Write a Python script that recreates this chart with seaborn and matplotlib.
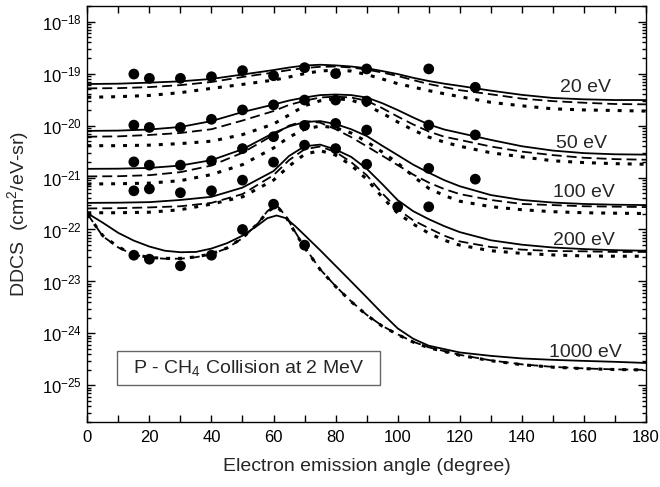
import numpy as np
import pandas as pd
import matplotlib
matplotlib.use("Agg")
import matplotlib.pyplot as plt
import seaborn as sns
from matplotlib.ticker import MultipleLocator, FixedLocator, LogFormatterSciNotation, NullFormatter
from matplotlib.patches import Rectangle

# ---------------- data ----------------
ANGLES = [0, 10, 20, 30, 40, 50, 60, 65, 70, 75, 80, 85, 90, 95, 100, 105, 110, 115, 120, 130, 140, 150, 160, 170, 180]

E20_SOLID = [6.3e-20, 6.4e-20, 6.7e-20, 7.1e-20, 7.9e-20, 9.6e-20, 1.17e-19, 1.31e-19, 1.43e-19, 1.48e-19, 1.44e-19, 1.37e-19,
             1.27e-19, 1.12e-19, 9.8e-20, 8.3e-20, 7.2e-20, 6.4e-20, 5.8e-20, 4.7e-20, 3.9e-20, 3.4e-20, 3.2e-20, 3.1e-20, 3.1e-20]
E20_DASH = [5.2e-20, 5.25e-20, 5.5e-20, 6.0e-20, 6.9e-20, 8.6e-20, 1.05e-19, 1.17e-19, 1.28e-19, 1.35e-19, 1.37e-19, 1.31e-19,
            1.2e-19, 1.05e-19, 9.0e-20, 7.5e-20, 6.3e-20, 5.5e-20, 4.8e-20, 4.0e-20, 3.3e-20, 2.95e-20, 2.75e-20, 2.6e-20, 2.56e-20]
E20_DOT = [3.5e-20, 3.6e-20, 3.8e-20, 4.3e-20, 5.2e-20, 6.2e-20, 7.5e-20, 8.6e-20, 1.0e-19, 1.12e-19, 1.17e-19, 1.12e-19,
           9.6e-20, 7.9e-20, 6.4e-20, 5.5e-20, 4.7e-20, 4.1e-20, 3.6e-20, 2.8e-20, 2.4e-20, 2.1e-20, 2.0e-20, 1.95e-20, 1.9e-20]

E50_SOLID = [7.9e-21, 8.0e-21, 8.4e-21, 9.4e-21, 1.22e-20, 1.82e-20, 2.54e-20, 3.03e-20, 3.47e-20, 3.86e-20, 3.96e-20, 3.86e-20,
             3.47e-20, 2.7e-20, 1.99e-20, 1.43e-20, 1.05e-20, 8.4e-21, 7.2e-21, 5.3e-21, 4.0e-21, 3.3e-21, 2.95e-21, 2.8e-21, 2.76e-21]
E50_DASH = [6.1e-21, 6.2e-21, 6.6e-21, 7.2e-21, 8.5e-21, 1.25e-20, 1.9e-20, 2.5e-20, 3.0e-20, 3.47e-20, 3.6e-20, 3.47e-20,
            3.0e-20, 2.17e-20, 1.49e-20, 1.05e-20, 7.7e-21, 6.1e-21, 5.3e-21, 3.95e-21, 3.15e-21, 2.7e-21, 2.4e-21, 2.26e-21, 2.2e-21]
E50_DOT = [4.1e-21, 4.1e-21, 4.2e-21, 4.5e-21, 5.0e-21, 6.7e-21, 1.07e-20, 1.6e-20, 2.4e-20, 3.0e-20, 3.3e-20, 3.1e-20,
           2.43e-20, 1.74e-20, 1.17e-20, 8.2e-21, 6.0e-21, 4.8e-21, 4.0e-21, 3.0e-21, 2.5e-21, 2.1e-21, 1.94e-21, 1.85e-21, 1.8e-21]

E100_SOLID = [1.47e-21, 1.48e-21, 1.53e-21, 1.7e-21, 2.16e-21, 3.5e-21, 7.2e-21, 9.6e-21, 1.17e-20, 1.22e-20, 1.07e-20, 8.5e-21,
              6.3e-21, 4.1e-21, 2.7e-21, 1.77e-21, 1.24e-21, 8.9e-22, 6.8e-22, 4.6e-22, 3.7e-22, 3.3e-22, 3.1e-22, 3.0e-22, 2.95e-22]
E100_DASH = [1.05e-21, 1.06e-21, 1.11e-21, 1.27e-21, 1.7e-21, 3.0e-21, 6.6e-21, 1.0e-20, 1.22e-20, 1.14e-20, 8.5e-21, 6.0e-21,
             4.0e-21, 2.64e-21, 1.73e-21, 1.14e-21, 8.0e-22, 6.0e-22, 4.8e-22, 3.7e-22, 3.1e-22, 2.95e-22, 2.8e-22, 2.75e-22, 2.7e-22]
E100_DOT = [7.5e-22, 7.6e-22, 7.8e-22, 8.7e-22, 1.14e-21, 1.77e-21, 3.7e-21, 6.0e-21, 8.5e-21, 9.8e-21, 9.1e-21, 7.2e-21,
            4.9e-21, 3.1e-21, 1.9e-21, 1.06e-21, 6.2e-22, 4.5e-22, 3.5e-22, 2.75e-22, 2.4e-22, 2.2e-22, 2.1e-22, 2.06e-22, 2.03e-22]

E200_SOLID = [3.25e-22, 3.28e-22, 3.36e-22, 3.7e-22, 4.25e-22, 6.4e-22, 1.33e-21, 2.6e-21, 4.0e-21, 4.3e-21, 3.45e-21, 2.5e-21,
              1.48e-21, 7.5e-22, 3.67e-22, 2.25e-22, 1.58e-22, 1.16e-22, 8.9e-23, 6.2e-23, 5.1e-23, 4.5e-23, 4.2e-23, 4.0e-23, 3.9e-23]
E200_DASH = [2.54e-22, 2.57e-22, 2.66e-22, 2.8e-22, 3.25e-22, 4.8e-22, 1.11e-21, 2.16e-21, 3.5e-21, 3.95e-21, 3.1e-21, 1.98e-21,
             1.11e-21, 5.0e-22, 2.46e-22, 1.5e-22, 1.06e-22, 7.6e-23, 5.9e-23, 4.6e-23, 4.1e-23, 3.85e-23, 3.8e-23, 3.7e-23, 3.7e-23]
E200_DOT = [2.1e-22, 2.1e-22, 2.15e-22, 2.4e-22, 3.08e-22, 4.25e-22, 8.9e-22, 1.66e-21, 2.8e-21, 3.3e-21, 2.7e-21, 1.73e-21,
            9.3e-22, 4.2e-22, 2.06e-22, 1.27e-22, 8.5e-23, 6.2e-23, 5.0e-23, 3.9e-23, 3.47e-23, 3.24e-23, 3.1e-23, 3.06e-23, 3.06e-23]

A1000 = [0, 5, 10, 15, 20, 25, 30, 35, 40, 45, 50, 55, 58, 61, 64, 67, 70, 75, 80, 85, 90, 95, 100, 105, 110,
         120, 130, 140, 150, 160, 170, 180]
E1000_SOLID = [2.06e-22, 1.35e-22, 8.6e-23, 6.1e-23, 4.7e-23, 3.9e-23, 3.65e-23, 3.7e-23, 4.3e-23, 5.45e-23, 7.6e-23, 1.21e-22,
               1.65e-22, 1.86e-22, 1.65e-22, 1.16e-22, 7.8e-23, 4.0e-23, 2.0e-23, 1.0e-23, 4.96e-24, 2.44e-24, 1.25e-24,
               7.9e-25, 5.8e-25, 4.3e-25, 3.7e-25, 3.3e-25, 3.1e-25, 2.96e-25, 2.84e-25, 2.7e-25]
E1000_DASH = [2.0e-22, 7.4e-23, 4.5e-23, 3.27e-23, 2.86e-23, 2.74e-23, 2.74e-23, 2.93e-23, 3.34e-23, 4.36e-23, 6.8e-23, 1.32e-22,
              2.25e-22, 2.94e-22, 1.8e-22, 8.9e-23, 4.6e-23, 1.72e-23, 8.1e-24, 4.15e-24, 2.28e-24, 1.4e-24, 9.6e-25,
              6.9e-25, 5.4e-25, 3.87e-25, 3.03e-25, 2.54e-25, 2.27e-25, 2.12e-25, 2.03e-25, 1.99e-25]
E1000_DOT = [1.95e-22, 7.6e-23, 4.6e-23, 3.3e-23, 2.9e-23, 2.78e-23, 2.78e-23, 2.97e-23, 3.4e-23, 4.4e-23, 6.9e-23, 1.3e-22,
             2.2e-22, 2.85e-22, 1.75e-22, 8.6e-23, 4.5e-23, 1.7e-23, 8.0e-24, 4.1e-24, 2.25e-24, 1.38e-24, 9.5e-25,
             6.8e-25, 5.3e-25, 3.8e-25, 2.98e-25, 2.5e-25, 2.24e-25, 2.1e-25, 2.02e-25, 1.98e-25]

# experimental points
EXP20_ANG = [15, 20, 30, 40, 50, 60, 70, 80, 90, 110, 125]
EXP20_VAL = [9.8e-20, 8.1e-20, 8.1e-20, 8.7e-20, 1.14e-19, 9.1e-20, 1.3e-19, 1.0e-19, 1.23e-19, 1.23e-19, 5.45e-20]
EXP50_ANG = [15, 20, 30, 40, 50, 60, 70, 80, 90, 110, 125]
EXP50_VAL = [1.02e-20, 9.2e-21, 9.2e-21, 1.32e-20, 2.0e-20, 2.5e-20, 3.1e-20, 3.1e-20, 2.96e-20, 1.02e-20, 6.6e-21]
EXP100_ANG = [15, 20, 30, 40, 50, 60, 70, 80, 90, 110, 125]
EXP100_VAL = [2.0e-21, 1.73e-21, 1.73e-21, 2.1e-21, 3.6e-21, 6.1e-21, 1.0e-20, 1.1e-20, 8.2e-21, 1.5e-21, 9.3e-22]
EXP200_ANG = [15, 20, 30, 40, 50, 60, 70, 80, 90, 100, 110]
EXP200_VAL = [5.55e-22, 6.05e-22, 5.1e-22, 5.55e-22, 8.9e-22, 1.98e-21, 4.2e-21, 3.6e-21, 1.8e-21, 2.73e-22, 2.73e-22]
EXP1000_ANG = [15, 20, 30, 40, 50, 60, 70]
EXP1000_VAL = [3.2e-23, 2.68e-23, 2.0e-23, 3.2e-23, 1.0e-22, 3.07e-22, 5.0e-23]

ENERGY_LABELS = ["20 eV", "50 eV", "100 eV", "200 eV", "1000 eV"]
Y_DECADES = [1e-25, 1e-24, 1e-23, 1e-22, 1e-21, 1e-20, 1e-19, 1e-18]

# ---------------- assemble tables ----------------
curves = {
    ("20 eV", "solid"): (ANGLES, E20_SOLID), ("20 eV", "dash"): (ANGLES, E20_DASH), ("20 eV", "dot"): (ANGLES, E20_DOT),
    ("50 eV", "solid"): (ANGLES, E50_SOLID), ("50 eV", "dash"): (ANGLES, E50_DASH), ("50 eV", "dot"): (ANGLES, E50_DOT),
    ("100 eV", "solid"): (ANGLES, E100_SOLID), ("100 eV", "dash"): (ANGLES, E100_DASH), ("100 eV", "dot"): (ANGLES, E100_DOT),
    ("200 eV", "solid"): (ANGLES, E200_SOLID), ("200 eV", "dash"): (ANGLES, E200_DASH), ("200 eV", "dot"): (ANGLES, E200_DOT),
    ("1000 eV", "solid"): (A1000, E1000_SOLID), ("1000 eV", "dash"): (A1000, E1000_DASH), ("1000 eV", "dot"): (A1000, E1000_DOT),
}
rows = []
for (en, model), (a, v) in curves.items():
    for ai, vi in zip(a, v):
        rows.append((en, model, ai, vi))
theory = pd.DataFrame(rows, columns=["energy", "model", "angle", "ddcs"])

exp = pd.concat([
    pd.DataFrame({"energy": en, "angle": a, "ddcs": v})
    for en, a, v in [("20 eV", EXP20_ANG, EXP20_VAL), ("50 eV", EXP50_ANG, EXP50_VAL),
                     ("100 eV", EXP100_ANG, EXP100_VAL), ("200 eV", EXP200_ANG, EXP200_VAL),
                     ("1000 eV", EXP1000_ANG, EXP1000_VAL)]
], ignore_index=True)

# ---------------- style ----------------
sns.set_style("ticks")
plt.rcParams['font.family'] = ['Liberation Sans', 'DejaVu Sans']
plt.rcParams['mathtext.fontset'] = 'custom'
plt.rcParams['mathtext.rm'] = 'Liberation Sans'
plt.rcParams['mathtext.it'] = 'Liberation Sans:italic'
plt.rcParams['mathtext.bf'] = 'Liberation Sans:bold'
plt.rcParams['axes.unicode_minus'] = False

fig = plt.figure(figsize=(6.6, 4.87), dpi=100)
ax = fig.add_axes([87.3 / 660, 1 - 421.7 / 487, (646 - 87.3) / 660, (421.7 - 6) / 487])
ax.set_yscale("log")

styles = {
    "solid": dict(linestyle="-", linewidth=1.3),
    "dash": dict(linestyle=(0, (5.5, 2.8)), linewidth=1.3),
    "dot": dict(linestyle=(0, (1.3, 2.6)), linewidth=2.2),
}

for (en, model), sub in theory.groupby(["energy", "model"], sort=False):
    sns.lineplot(data=sub, x="angle", y="ddcs", ax=ax, color="black", estimator=None,
                 sort=False, errorbar=None, **styles[model])

sns.scatterplot(data=exp, x="angle", y="ddcs", ax=ax, color="black", s=60,
                edgecolor="none", zorder=5, legend=False)

ax.set_xlim(0, 180)
ax.set_ylim(2e-26, 2e-18)
ax.xaxis.set_major_locator(MultipleLocator(20))
ax.xaxis.set_minor_locator(MultipleLocator(10))
ax.yaxis.set_major_locator(FixedLocator(Y_DECADES))
ax.yaxis.set_major_formatter(LogFormatterSciNotation())
minor_y = [m * d for d in [1e-26] + Y_DECADES for m in range(2, 10) if 2e-26 <= m * d <= 2e-18]
ax.yaxis.set_minor_locator(FixedLocator(minor_y))
ax.yaxis.set_minor_formatter(NullFormatter())

ax.tick_params(which="both", direction="in", top=True, right=True, width=1.0, colors="black")
ax.tick_params(axis="x", which="major", length=5, labelsize=12, pad=6)
ax.tick_params(axis="x", which="minor", length=5)
ax.tick_params(axis="y", which="major", length=6, labelsize=12, pad=4)
ax.tick_params(axis="y", which="minor", length=3)
for sp in ax.spines.values():
    sp.set_linewidth(1.0)
    sp.set_color("black")

ax.set_xlabel("Electron emission angle (degree)", fontsize=14, labelpad=9)
ax.set_ylabel("DDCS  (cm$^2$/eV-sr)", fontsize=14, labelpad=8)

# energy labels (axes fraction positions)
label_pos = {"20 eV": (0.8926, 0.794), "50 eV": (0.884, 0.658), "100 eV": (0.889, 0.540),
             "200 eV": (0.889, 0.425), "1000 eV": (0.891, 0.155)}
for lab in ENERGY_LABELS:
    x, y = label_pos[lab]
    ax.text(x, y, lab, transform=ax.transAxes, ha="center", va="baseline", fontsize=14)

# annotation box
ax.add_patch(Rectangle((0.053, 0.088), 0.471, 0.082, transform=ax.transAxes,
                       facecolor="white", edgecolor="#666666", linewidth=1.0, zorder=6))
ax.text(0.2885, 0.129, "P - CH$_4$ Collision at 2 MeV", transform=ax.transAxes,
        ha="center", va="center", fontsize=14, zorder=7)

fig.savefig("out.png", dpi=100)
